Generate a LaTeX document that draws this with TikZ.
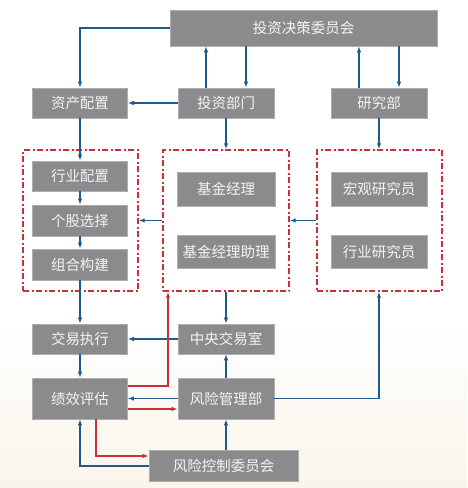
\documentclass[tikz,border=0pt]{standalone}
\usepackage{fontspec}
\newfontfamily\cjk{Noto Sans CJK SC}
\usetikzlibrary{arrows.meta,calc}
\definecolor{boxgray}{HTML}{8B8B8D}
\definecolor{boxtext}{HTML}{F4F4F4}
\definecolor{lnblue}{HTML}{1F5A8C}
\definecolor{lnred}{HTML}{C8303A}
\definecolor{beige}{HTML}{FAF5EA}
\tikzset{
  box/.style={fill=boxgray, draw=boxgray!70!white, line width=0.6pt, text=boxtext,
    font=\cjk\fontsize{14.5}{14.5}\selectfont, inner sep=0pt, anchor=center},
  grp/.style={draw=lnred, line width=1.4pt, dash pattern=on 6pt off 2.5pt on 2pt off 2.5pt},
  blu/.style={draw=lnblue, line width=1.3pt, -{Latex[length=6pt,width=4.5pt]}},
  red/.style={draw=lnred, line width=1.3pt, -{Latex[length=6pt,width=4.5pt]}},
}
\begin{document}
\begin{tikzpicture}[x=1pt,y=-1pt]
\useasboundingbox (0,0) rectangle (467,488);
\fill[white] (0,0) rectangle (467,488);
\shade[top color=white, bottom color=beige] (0,320) rectangle (467,488);

% boxes
\node[box, minimum width=267pt, minimum height=36pt] (committee) at (303.5,28) {投资决策委员会};
\node[box, minimum width=95pt, minimum height=30pt] (zichan) at (80,103) {资产配置};
\node[box, minimum width=96pt, minimum height=30pt] (touzi) at (226,103) {投资部门};
\node[box, minimum width=96pt, minimum height=30pt] (yanjiu) at (379,103) {研究部};

\node[grp, minimum width=115pt, minimum height=141pt] (g1) at (80.5,220.5) {};
\node[grp, minimum width=126pt, minimum height=141pt] (g2) at (226,220.5) {};
\node[grp, minimum width=125pt, minimum height=141pt] (g3) at (379.5,220.5) {};

\node[box, minimum width=95pt, minimum height=30pt] (hangye) at (80,176) {行业配置};
\node[box, minimum width=95pt, minimum height=31pt] (gegu) at (80,220.5) {个股选择};
\node[box, minimum width=95pt, minimum height=31pt] (zuhe) at (80,264.5) {组合构建};

\node[box, minimum width=98pt, minimum height=34pt] (jijin) at (226,189) {基金经理};
\node[box, minimum width=98pt, minimum height=33pt] (zhuli) at (226,251.5) {基金经理助理};
\node[box, minimum width=96pt, minimum height=34pt] (hongguan) at (379,189) {宏观研究员};
\node[box, minimum width=96pt, minimum height=33pt] (hangyeyj) at (379,251.5) {行业研究员};

\node[box, minimum width=95pt, minimum height=30pt] (jiaoyi) at (80,339) {交易执行};
\node[box, minimum width=96pt, minimum height=30pt] (zhongyang) at (226,339) {中央交易室};
\node[box, minimum width=95pt, minimum height=41pt] (jixiao) at (80,398.5) {绩效评估};
\node[box, minimum width=96pt, minimum height=41pt] (fengxian) at (226,398.5) {风险管理部};
\node[box, minimum width=149pt, minimum height=31pt] (fengkong) at (223.5,465.5) {风险控制委员会};

% helper coordinates
\coordinate (xa) at (206,0);
\coordinate (xb) at (246,0);
\coordinate (xc) at (359,0);
\coordinate (xd) at (399,0);
\coordinate (xr) at (168,0);
\coordinate (xm) at (226,0);
\coordinate (xf) at (96,0);
\coordinate (y1) at (0,386);
\coordinate (y2) at (0,409);
\coordinate (y3) at (0,456);
\coordinate (y4) at (0,466);

% connectors
\draw[blu] (committee.west) -| (zichan.north);
\draw[blu] (touzi.north -| xa) -- (committee.south -| xa);
\draw[blu] (committee.south -| xb) -- (touzi.north -| xb);
\draw[blu] (yanjiu.north -| xc) -- (committee.south -| xc);
\draw[blu] (committee.south -| xd) -- (yanjiu.north -| xd);
\draw[blu] (touzi.west) -- (zichan.east);
\draw[blu] (zichan.south) -- (hangye.north);
\draw[blu] (touzi.south) -- (g2.north);
\draw[blu] (yanjiu.south) -- (g3.north -| yanjiu.south);
\draw[blu] (hangye.south) -- (gegu.north);
\draw[blu] (gegu.south) -- (zuhe.north);
\draw[blu] (g2.west) -- (g1.east);
\draw[blu] (g3.west) -- (g2.east);
\draw[blu] (zuhe.south) -- (jiaoyi.north);
\draw[blu] (g2.south) -- (zhongyang.north);
\draw[blu] (zhongyang.west) -- (jiaoyi.east);
\draw[blu] (jiaoyi.south) -- (jixiao.north);
\draw[red] (jixiao.east |- y1) -| (g2.south -| xr);
\draw[blu] (fengxian.west) -- (jixiao.east);
\draw[red] (jixiao.east |- y2) -- (fengxian.west |- y2);
\draw[blu] (fengxian.north) -- (zhongyang.south);
\draw[blu] (fengxian.east) -| (g3.south -| yanjiu.south);
\draw[blu] (fengkong.north -| xm) -- (fengxian.south);
\draw[red] (jixiao.south -| xf) |- (fengkong.west |- y3);
\draw[blu] (fengkong.west |- y4) -| (jixiao.south);
\end{tikzpicture}
\end{document}
